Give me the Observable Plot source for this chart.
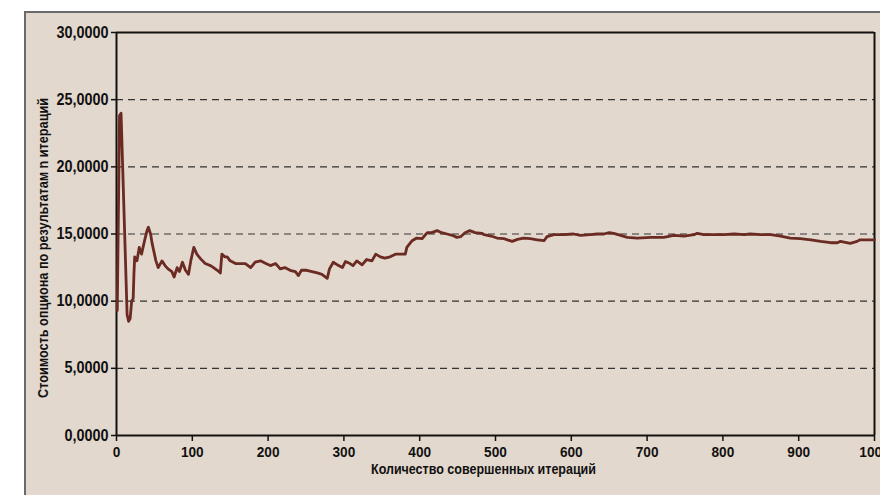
<!DOCTYPE html>
<html>
<head>
<meta charset="utf-8">
<script src="https://cdn.jsdelivr.net/npm/d3@7"></script>
<script src="https://cdn.jsdelivr.net/npm/@observablehq/plot@0.6"></script>
<style>
  html, body { margin: 0; padding: 0; background: #ffffff; }
  #wrap { position: relative; width: 880px; height: 495px; overflow: hidden; }
  #panel { position: absolute; left: 24px; top: 11px; width: 900px; height: 520px;
           background: #e3d8cd; border-left: 2px solid #6a6a6a; border-top: 2px solid #6a6a6a; }
  #chart { position: absolute; left: 0; top: 0; }
</style>
</head>
<body>
<div id="wrap"><div id="panel"></div><div id="chart"></div></div>
<script>
const iterations = [1, 4, 6, 14, 16, 18, 20, 22, 23, 24, 27, 30, 33, 37, 40, 42, 45, 47, 52, 55, 60, 64, 68, 73, 76, 80, 83, 87, 91, 95, 98, 102, 106, 111, 117, 124, 128, 133, 137, 139, 143, 146, 150, 157, 164, 170, 177, 183, 190, 197, 203, 210, 216, 222, 229, 236, 240, 244, 251, 258, 265, 271, 278, 281, 286, 293, 298, 302, 308, 312, 317, 324, 330, 337, 342, 348, 354, 361, 368, 375, 381, 383, 390, 396, 403, 410, 416, 423, 429, 436, 443, 449, 454, 458, 460, 466, 473, 482, 485, 494, 502, 511, 522, 529, 537, 546, 555, 564, 568, 577, 590, 603, 612, 625, 634, 643, 650, 656, 665, 674, 687, 705, 722, 735, 749, 762, 766, 775, 788, 801, 815, 828, 836, 850, 863, 876, 889, 902, 916, 929, 942, 951, 955, 968, 977, 981, 995, 1000];
const values = [9.3, 23.8, 24.0, 9.0, 8.5, 8.7, 10.0, 10.2, 12.0, 13.3, 13.0, 14.0, 13.5, 14.5, 15.2, 15.5, 15.0, 14.3, 13.0, 12.5, 13.0, 12.65, 12.4, 12.2, 11.8, 12.5, 12.2, 12.9, 12.3, 12.0, 13.0, 14.0, 13.5, 13.15, 12.8, 12.65, 12.5, 12.3, 12.1, 13.5, 13.3, 13.3, 13.0, 12.8, 12.8, 12.8, 12.5, 12.9, 13.0, 12.8, 12.65, 12.8, 12.4, 12.5, 12.3, 12.2, 11.9, 12.3, 12.3, 12.2, 12.1, 12.0, 11.7, 12.4, 12.9, 12.65, 12.5, 12.95, 12.8, 12.65, 13.0, 12.7, 13.1, 13.0, 13.5, 13.3, 13.2, 13.3, 13.5, 13.5, 13.5, 14.0, 14.5, 14.7, 14.65, 15.1, 15.1, 15.25, 15.1, 15.0, 14.9, 14.75, 14.8, 15.0, 15.1, 15.25, 15.1, 15.05, 14.95, 14.85, 14.7, 14.65, 14.45, 14.6, 14.7, 14.65, 14.57, 14.5, 14.8, 14.95, 14.95, 15.0, 14.9, 14.95, 15.0, 15.0, 15.1, 15.05, 14.9, 14.75, 14.7, 14.75, 14.75, 14.9, 14.85, 14.95, 15.05, 14.95, 14.95, 14.95, 15.0, 14.95, 15.0, 14.95, 14.95, 14.85, 14.7, 14.65, 14.57, 14.45, 14.35, 14.35, 14.45, 14.3, 14.45, 14.57, 14.57, 14.57];
const xTicks = [0, 100, 200, 300, 400, 500, 600, 700, 800, 900, 1000];
const yTicks = [0, 5, 10, 15, 20, 25, 30];
const gridValues = [5, 10, 15, 20, 25];
const xTitle = "Количество совершенных итераций";
const yTitle = "Стоимость опциона по результатам n итераций";

const data = iterations.map((x, i) => ({x, y: values[i]}));
const FONT = '"Liberation Sans", Arial, sans-serif';

const chart = Plot.plot({
  width: 880,
  height: 495,
  marginLeft: 116,
  marginRight: 6,
  marginTop: 32,
  marginBottom: 60,
  style: {background: "transparent", fontFamily: FONT, fontWeight: "bold", color: "#111", overflow: "hidden"},
  x: {domain: [0, 1000], label: null},
  y: {domain: [0, 30], label: null},
  marks: [
    Plot.ruleY(gridValues, {stroke: "#333", strokeWidth: 1.2, strokeDasharray: "7,5"}),
    Plot.ruleY([30], {stroke: "#111", strokeWidth: 2}),
    Plot.ruleX([1000], {stroke: "#111", strokeWidth: 2}),
    Plot.axisX({ticks: xTicks, tickSize: 6, tickPadding: 4, fontSize: 15.5, tickFormat: d => String(d), stroke: "#111", strokeWidth: 1.5, label: null}),
    Plot.axisY({ticks: yTicks, tickSize: 5, tickPadding: 3, fontSize: 16, tickFormat: d => d.toFixed(4).replace(".", ","), stroke: "#111", strokeWidth: 1.5, label: null}),
    Plot.ruleY([0], {stroke: "#111", strokeWidth: 2}),
    Plot.ruleX([0], {stroke: "#111", strokeWidth: 2}),
    Plot.line(data, {x: "x", y: "y", stroke: "#6b2a22", strokeWidth: 2.8, strokeLinejoin: "round"}),
    Plot.text([xTitle], {frameAnchor: "bottom", dy: 38, dx: -12, fontSize: 14.5, fontWeight: "bold", fill: "#111", className: "xt"}),
    Plot.text([yTitle], {frameAnchor: "left", textAnchor: "middle", rotate: -90, dx: -73, dy: 14, fontSize: 14.5, fontWeight: "bold", fill: "#111", className: "yt"})
  ]
});
document.getElementById("chart").appendChild(chart);

// condense glyphs horizontally to mimic the narrow typeface of the original
function condense(sel, factor, fixed) {
  chart.querySelectorAll(sel).forEach(t => {
    const len = fixed || t.getComputedTextLength() * factor;
    t.setAttribute("textLength", len);
    t.setAttribute("lengthAdjust", "spacingAndGlyphs");
  });
}
condense("g[aria-label='x-axis tick label'] text", 0.88);
condense("g[aria-label='y-axis tick label'] text", 0.9);
condense("g.xt text", 1, 225);
condense("g.yt text", 1, 300);
</script>
</body>
</html>
